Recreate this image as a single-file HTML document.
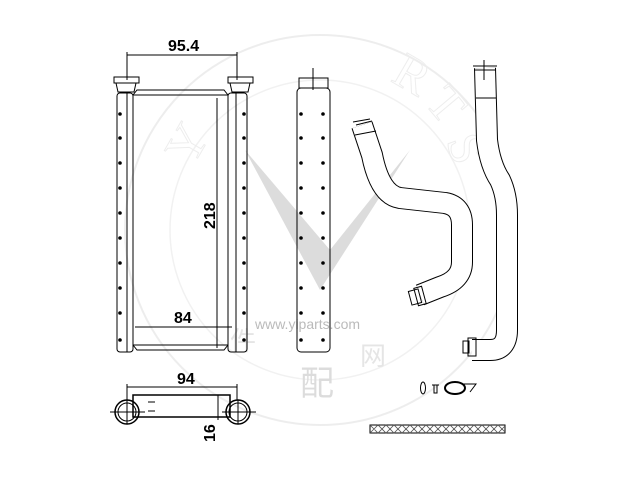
<!DOCTYPE html>
<html><head><style>body{margin:0;background:#fff}svg{display:block}</style></head><body>
<svg width="640" height="480" viewBox="0 0 640 480" xmlns="http://www.w3.org/2000/svg" font-family="Liberation Sans, sans-serif">
<!-- watermark -->
<g opacity="0.5">
<circle cx="320" cy="230" r="195" fill="none" stroke="#ddd" stroke-width="2"/>
<circle cx="320" cy="230" r="150" fill="none" stroke="#e4e4e4" stroke-width="1.5"/>
<path d="M245 150 L320 290 L410 150 L330 250 Z" fill="#bbb"/>
<text x="255" y="329" font-size="14" fill="#777">www.yiparts.com</text>
<text x="300" y="395" font-size="34" fill="#bbb" font-family="Noto Sans CJK SC, sans-serif">配</text>
<text x="360" y="365" font-size="26" fill="#ccc" font-family="Noto Sans CJK SC, sans-serif">网</text>
<text x="230" y="350" font-size="26" fill="#ccc" font-family="Noto Sans CJK SC, sans-serif">件</text>
<text x="165" y="160" font-size="50" fill="none" stroke="#ddd" font-family="Liberation Serif, serif" transform="rotate(-60 185 140)">Y</text>
<text x="395" y="90" font-size="50" fill="none" stroke="#ddd" font-family="Liberation Serif, serif" transform="rotate(30 410 75)">R</text>
<text x="430" y="120" font-size="50" fill="none" stroke="#ddd" font-family="Liberation Serif, serif" transform="rotate(50 445 105)">T</text>
<text x="450" y="165" font-size="50" fill="none" stroke="#ddd" font-family="Liberation Serif, serif" transform="rotate(70 465 150)">S</text>
</g>
<g fill="none" stroke="#000" stroke-width="1">
<rect x="117" y="93" width="16" height="259" rx="3"/>
<line x1="127" y1="93" x2="127" y2="352"/>
<rect x="228" y="93" width="19" height="259" rx="3"/>
<line x1="236" y1="93" x2="236" y2="352"/>
<path d="M133 95 L137 90 L224 90 L228 95 M133 95 L228 95 M133 345 L228 345 M133 345 L137 350 L224 350 L228 345"/>
<rect x="114" y="77" width="25" height="6"/><path d="M116 83 L118 92 L134 92 L136 83"/>
<rect x="228" y="77" width="25" height="6"/><path d="M230 83 L232 92 L248 92 L250 83"/>
<line x1="127" y1="55" x2="237" y2="55"/><line x1="127" y1="52" x2="127" y2="80"/><line x1="237" y1="52" x2="237" y2="80"/>
<line x1="217" y1="98" x2="217" y2="348"/>
<line x1="135" y1="327" x2="232" y2="327"/>
<rect x="297" y="88" width="33" height="264" rx="4"/>
<rect x="299" y="78" width="29" height="10"/>
<line x1="313" y1="68" x2="313" y2="90"/><line x1="302" y1="78" x2="325" y2="78"/>
<line x1="127" y1="387" x2="237" y2="387"/><line x1="127" y1="384" x2="127" y2="400"/><line x1="237" y1="384" x2="237" y2="400"/>
<rect x="133" y="395" width="97" height="22" stroke-width="1.5"/>
<line x1="148" y1="402" x2="155" y2="402"/><line x1="148" y1="411" x2="155" y2="411"/>
<circle cx="127" cy="412" r="12" stroke-width="1.5"/><circle cx="127" cy="412" r="9"/>
<circle cx="238" cy="412" r="12" stroke-width="1.5"/><circle cx="238" cy="412" r="9"/>
<line x1="110" y1="412" x2="145" y2="412"/><line x1="127" y1="400" x2="127" y2="424"/>
<line x1="222" y1="412" x2="256" y2="412"/><line x1="238" y1="400" x2="238" y2="424"/>
<line x1="218" y1="395" x2="218" y2="420"/>
</g>
<g fill="#000">
<circle cx="120" cy="114" r="1.8"/><circle cx="120" cy="138" r="1.8"/><circle cx="120" cy="163" r="1.8"/><circle cx="120" cy="188" r="1.8"/><circle cx="120" cy="213" r="1.8"/><circle cx="120" cy="238" r="1.8"/><circle cx="120" cy="263" r="1.8"/><circle cx="120" cy="288" r="1.8"/><circle cx="120" cy="313" r="1.8"/><circle cx="120" cy="340" r="1.8"/>
<circle cx="244" cy="114" r="1.8"/><circle cx="244" cy="138" r="1.8"/><circle cx="244" cy="163" r="1.8"/><circle cx="244" cy="188" r="1.8"/><circle cx="244" cy="213" r="1.8"/><circle cx="244" cy="238" r="1.8"/><circle cx="244" cy="263" r="1.8"/><circle cx="244" cy="288" r="1.8"/><circle cx="244" cy="313" r="1.8"/><circle cx="244" cy="340" r="1.8"/>
<circle cx="301" cy="114" r="1.8"/><circle cx="301" cy="138" r="1.8"/><circle cx="301" cy="163" r="1.8"/><circle cx="301" cy="188" r="1.8"/><circle cx="301" cy="213" r="1.8"/><circle cx="301" cy="238" r="1.8"/><circle cx="301" cy="263" r="1.8"/><circle cx="301" cy="288" r="1.8"/><circle cx="301" cy="313" r="1.8"/><circle cx="301" cy="340" r="1.8"/>
<circle cx="323" cy="114" r="1.8"/><circle cx="323" cy="138" r="1.8"/><circle cx="323" cy="163" r="1.8"/><circle cx="323" cy="188" r="1.8"/><circle cx="323" cy="213" r="1.8"/><circle cx="323" cy="238" r="1.8"/><circle cx="323" cy="263" r="1.8"/><circle cx="323" cy="288" r="1.8"/><circle cx="323" cy="313" r="1.8"/><circle cx="323" cy="340" r="1.8"/>
</g>
<g font-weight="bold" font-size="16" fill="#000">
<text x="168" y="51">95.4</text>
<text x="174" y="323">84</text>
<text x="177" y="384">94</text>
<text transform="translate(215 229) rotate(-90)">218</text>
<text transform="translate(215 442) rotate(-90)">16</text>
</g>
<g fill="none" stroke-linejoin="round">
<path d="M362 125 L372 155 Q380 195 400 198 L445 203 Q462 206 462 225 L462 262 Q462 280 440 287 L420 295" stroke="#000" stroke-width="22"/>
<path d="M362 125 L372 155 Q380 195 400 198 L445 203 Q462 206 462 225 L462 262 Q462 280 440 287 L420 295" stroke="#fff" stroke-width="20"/>
<path d="M485 68 L487 140 Q490 165 500 180 Q507 195 507 215 L507 330 Q507 350 490 350 L472 350" stroke="#000" stroke-width="22"/>
<path d="M485 68 L487 140 Q490 165 500 180 Q507 195 507 215 L507 330 Q507 350 490 350 L472 350" stroke="#fff" stroke-width="20"/>
</g>
<g fill="none" stroke="#000" stroke-width="1">
<path d="M353 122 L370 119 M355 135 L376 131 M356 125 L372 121"/>
<path d="M473 66 L497 66 M474 70 L496 70 M476 98 L496 98 M484 60 L484 80"/>
<rect x="410" y="290" width="10" height="14" transform="rotate(-15 415 297)"/>
<rect x="416" y="287" width="8" height="18" transform="rotate(-15 420 296)"/>
<rect x="468" y="338" width="8" height="18"/><rect x="463" y="341" width="6" height="12"/>
<ellipse cx="423" cy="388" rx="2.5" ry="6"/>
<rect x="434" y="385" width="3" height="8"/><line x1="432" y1="385" x2="439" y2="385"/>
<ellipse cx="455" cy="388" rx="10" ry="6" stroke-width="2"/>
<path d="M463 384 L476 384 L470 392"/>
<rect x="370" y="425" width="135" height="8"/>
<path stroke="#555" stroke-width="0.8" d="M370 425 L378 433 L386 425 L394 433 L402 425 L410 433 L418 425 L426 433 L434 425 L442 433 L450 425 L458 433 L466 425 L474 433 L482 425 L490 433 L498 425 L505 432 M370 433 L378 425 L386 433 L394 425 L402 433 L410 425 L418 433 L426 425 L434 433 L442 425 L450 433 L458 425 L466 433 L474 425 L482 433 L490 425 L498 433 L505 426"/>
</g>
</svg>
</body></html>
